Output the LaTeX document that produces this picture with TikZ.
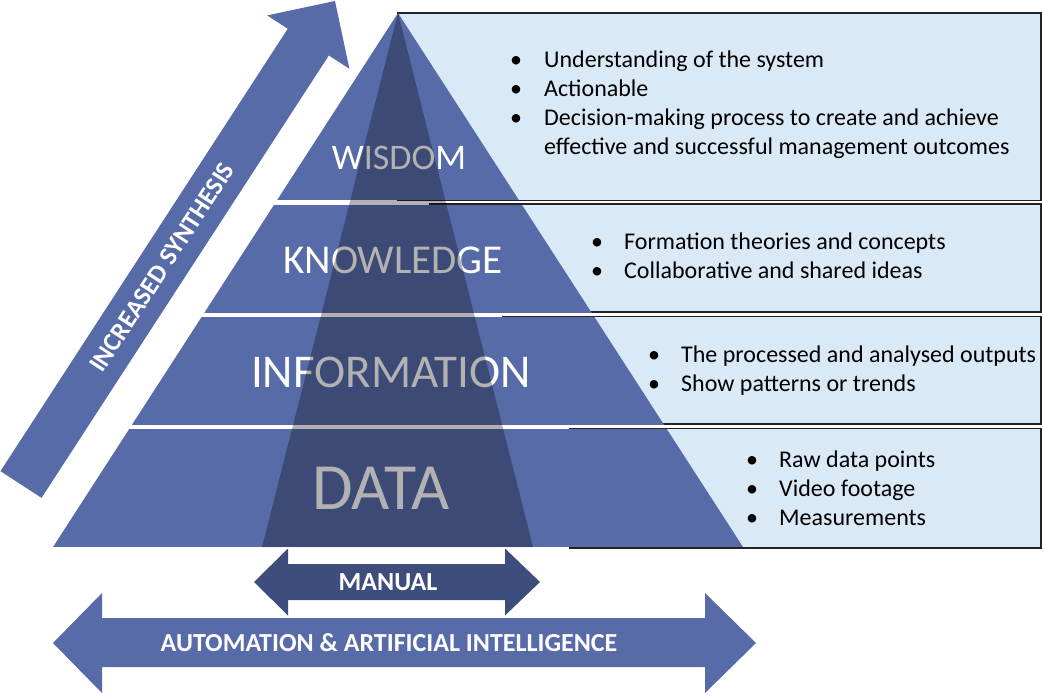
\documentclass[tikz,border=0pt]{standalone}
\usepackage{fontspec}
\setmainfont{Carlito}
\usetikzlibrary{positioning}

\definecolor{pyrblue}{RGB}{86,107,168}
\definecolor{pyrdark}{RGB}{62,78,124}
\definecolor{boxblue}{RGB}{218,233,246}
\definecolor{boxline}{RGB}{35,35,35}

\begin{document}
\begin{tikzpicture}[
    x=1pt, y=-1pt,
    info box/.style = {fill=boxblue, draw=boxline, line width=1.1pt},
    bullet list/.style = {
        anchor=base west,
        inner sep=0pt,
        text=black,
        font=\fontsize{24}{29}\selectfont
    },
    level label/.style = {text=white, inner sep=0pt},
    arrow label/.style = {
        text=white,
        inner sep=0pt,
        font=\fontsize{26}{30}\selectfont\bfseries
    },
    overlay tri/.style = {fill=black, opacity=0.3}
]
\useasboundingbox (0,0) rectangle (1043,693);

% text boxes, behind the pyramid
\draw[info box] (398,13) rectangle (1041,200.5);
\draw[info box] (430,204) rectangle (1041,312);
\draw[info box] (503,316.3) rectangle (1041,424);
\draw[info box] (570,428.3) rectangle (1041,548);

% pyramid layers
\coordinate (apex) at (398,13);
\coordinate (base west) at (53,547);
\coordinate (base east) at (743,547);
\begin{scope}
    \clip (apex) -- (base west) -- (base east) -- cycle;
    \fill[pyrblue] (0,0) rectangle (1043,199.8);
    \fill[pyrblue] (0,204.8) rectangle (1043,312.8);
    \fill[pyrblue] (0,316.8) rectangle (1043,424.8);
    \fill[pyrblue] (0,428.8) rectangle (1043,547);
\end{scope}

\node[level label, font=\fontsize{36}{40}\selectfont] (wisdom) at (399,158) {WISDOM};
\node[level label, font=\fontsize{41}{45}\selectfont] (knowledge) at (393,260) {KNOWLEDGE};
\node[level label, font=\fontsize{47}{50}\selectfont] (information) at (391,372) {INFORMATION};
\node[level label, font=\fontsize{66}{70}\selectfont] (data) at (381,488) {DATA};

% darker core
\fill[overlay tri] (apex) -- (262,547) -- (533,547) -- cycle;

% bullet texts
\node[bullet list] (wisdomtext) at (510,67) {%
    \begin{tabular}[t]{@{}p{34pt}@{}l@{}}
    \textbullet & Understanding of the system\\
    \textbullet & Actionable\\
    \textbullet & Decision-making process to create and achieve\\
                & effective and successful management outcomes
    \end{tabular}};
\node[bullet list] (knowledgetext) at (591,249) {%
    \begin{tabular}[t]{@{}p{33pt}@{}l@{}}
    \textbullet & Formation theories and concepts\\
    \textbullet & Collaborative and shared ideas
    \end{tabular}};
\node[bullet list] (informationtext) at (648,362) {%
    \begin{tabular}[t]{@{}p{33pt}@{}l@{}}
    \textbullet & The processed and analysed outputs\\
    \textbullet & Show patterns or trends
    \end{tabular}};
\node[bullet list] (datatext) at (746,467) {%
    \begin{tabular}[t]{@{}p{33pt}@{}l@{}}
    \textbullet & Raw data points\\
    \textbullet & Video footage\\
    \textbullet & Measurements
    \end{tabular}};

% increased synthesis arrow
\begin{scope}[shift={(21,484.5)}, rotate=57]
    \fill[pyrblue] (0,-24.5) -- (527.5,-24.5) -- (527.5,-49) -- (576.5,0)
        -- (527.5,49) -- (527.5,24.5) -- (0,24.5) -- cycle;
    \node[arrow label, rotate=57] (synthesis) at (259,0) {INCREASED SYNTHESIS};
\end{scope}

% manual arrow
\fill[pyrdark] (254,582) -- (288,548.5) -- (288,564) -- (505,564) -- (505,548.5)
    -- (540,582) -- (505,615.5) -- (505,600) -- (288,600) -- (288,615.5) -- cycle;
\node[arrow label] (manual) at (388,582) {MANUAL};

% automation arrow
\fill[pyrblue] (53,643) -- (102,593) -- (102,618) -- (705,618) -- (705,593)
    -- (756,643) -- (705,693) -- (705,667) -- (102,667) -- (102,693) -- cycle;
\node[arrow label] (automation) at (389,643) {AUTOMATION \& ARTIFICIAL INTELLIGENCE};

\end{tikzpicture}
\end{document}
